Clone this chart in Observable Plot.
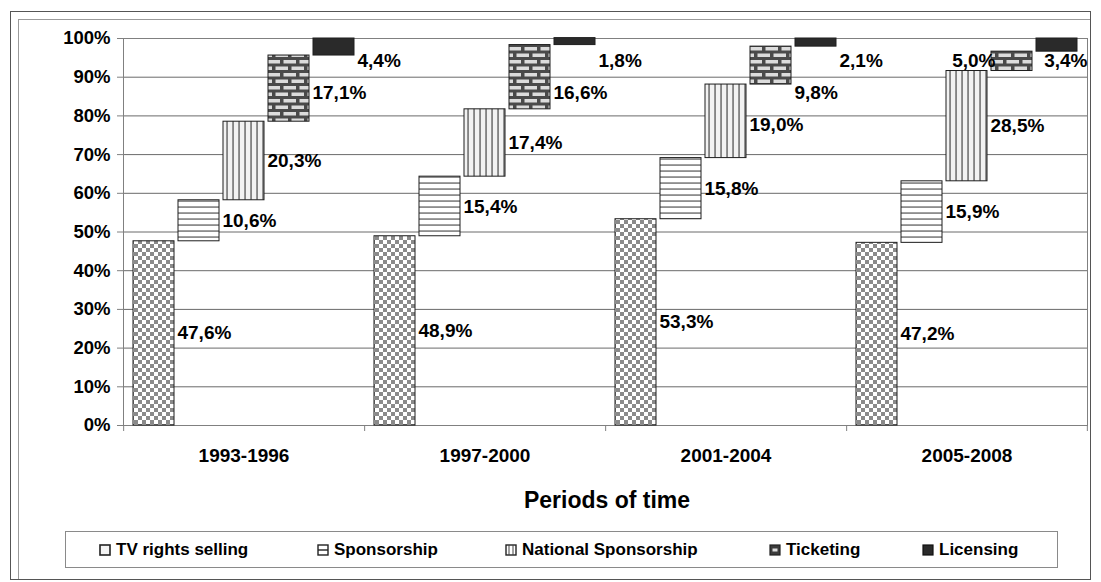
<!DOCTYPE html>
<html>
<head>
<meta charset="utf-8">
<script src="https://cdn.jsdelivr.net/npm/d3@7"></script>
<script src="https://cdn.jsdelivr.net/npm/@observablehq/plot@0.6"></script>
<style>
  body { margin: 0; background: #fff; font-family: "Liberation Sans", Arial, sans-serif; }
  #wrap { position: relative; width: 1101px; height: 582px; overflow: hidden; background: #fff; }
  #outer { position: absolute; left: 10px; top: 11px; width: 1079px; height: 567px; border: 1px solid #555; }
  #innerL { position: absolute; left: 18px; top: 19px; width: 0; height: 560px; border-left: 1px solid #9a9a9a; }
  #innerT { position: absolute; left: 18px; top: 19px; width: 1072px; height: 0; border-top: 1px solid #9a9a9a; }
  #chart { position: absolute; left: 0; top: 0; }
  #title { position: absolute; left: 457px; width: 300px; top: 486px; text-align: center;
           font-weight: bold; font-size: 23px; line-height: 28px; color: #000; }
  #legend { position: absolute; left: 65px; top: 531px; width: 991px; height: 35px; border: 1px solid #8a8a8a; }
  .item { position: absolute; top: 0; height: 35px; display: flex; align-items: center;
          font-weight: bold; font-size: 17px; color: #000; white-space: nowrap; }
  .item svg { margin-right: 5px; }
</style>
</head>
<body>
<div id="wrap">
  <svg width="0" height="0" style="position:absolute">
    <defs>
      <pattern id="pTV" width="8" height="8" patternUnits="userSpaceOnUse">
        <rect width="8" height="8" fill="#ffffff"/>
        <rect width="4" height="4" fill="#8a8a8a"/>
        <rect x="4" y="4" width="4" height="4" fill="#8a8a8a"/>
      </pattern>
      <pattern id="pSp" width="6" height="6" patternUnits="userSpaceOnUse">
        <rect width="6" height="6" fill="#ffffff"/>
        <rect y="2.5" width="6" height="1.1" fill="#444"/>
      </pattern>
      <pattern id="pNat" width="6" height="6" patternUnits="userSpaceOnUse">
        <rect width="6" height="6" fill="#f2f2f2"/>
        <rect x="2.4" width="1.3" height="6" fill="#555"/>
      </pattern>
      <pattern id="pTick" width="16" height="13" patternUnits="userSpaceOnUse">
        <rect width="16" height="13" fill="#4a4a4a"/>
        <rect x="1.5" y="1.5" width="12.5" height="3.5" fill="#dcdcdc"/>
        <rect x="-6.5" y="8" width="12.5" height="3.5" fill="#dcdcdc"/>
        <rect x="9.5" y="8" width="12.5" height="3.5" fill="#dcdcdc"/>
      </pattern>
    </defs>
  </svg>
  <div id="outer"></div>
  <div id="innerL"></div>
  <div id="innerT"></div>
  <div id="chart"></div>
  <div id="title">Periods of time</div>
  <div id="legend"></div>
</div>
<script>
// ---- data ----
const periods = ["1993-1996", "1997-2000", "2001-2004", "2005-2008"];
const seriesNames = ["TV rights selling", "Sponsorship", "National Sponsorship", "Ticketing", "Licensing"];
const tvRights = [47.6, 48.9, 53.3, 47.2];
const sponsorship = [10.6, 15.4, 15.8, 15.9];
const nationalSponsorship = [20.3, 17.4, 19.0, 28.5];
const ticketing = [17.1, 16.6, 9.8, 5.0];
const licensing = [4.4, 1.8, 2.1, 3.4];
const yTicks = [0, 10, 20, 30, 40, 50, 60, 70, 80, 90, 100];

// ---- layout ----
const W = 1101, H = 470, mL = 121, mR = 13, mT = 38, mB = 45;
const pIn = 0.095, pOut = 0.218;
const patterns = ["url(#pTV)", "url(#pSp)", "url(#pNat)", "url(#pTick)", "#2a2a2a"];
const labelFont = "bold 19px 'Liberation Sans', Arial, sans-serif";

const seriesValues = [tvRights, sponsorship, nationalSponsorship, ticketing, licensing];

// floating (waterfall) bars: each bar starts where the previous one ended
const rows = [];
periods.forEach((p, i) => {
  let start = 0;
  seriesNames.forEach((s, j) => {
    const v = seriesValues[j][i];
    rows.push({period: p, pi: i, series: s, sj: j, value: v, y1: start, y2: start + v,
               label: v.toFixed(1).replace(".", ",") + "%"});
    start += v;
  });
});

// ---- label placement (keep labels inside the plot frame, avoid collisions) ----
const plotW = W - mL - mR;
const plotH = H - mT - mB;
const facetW = plotW / periods.length;
const step = facetW / (seriesNames.length - pIn + 2 * pOut);
const bw = step * (1 - pIn);
const pxPerUnit = plotH / 100;
const gap = 3;
const topLimit = 100 - 22 / pxPerUnit;
const sepPx = 32;
const ctx = document.createElement("canvas").getContext("2d");
ctx.font = labelFont;
rows.forEach(r => {
  r.labelY = Math.min((r.y1 + r.y2) / 2, topLimit);
  r.w = ctx.measureText(r.label).width;
  const barLeft = step * pOut + r.sj * step;
  r.barLeft = barLeft;
  r.x0 = barLeft + bw + gap; r.x1 = r.x0 + r.w;
  r.place = "right";
  if (r.pi * facetW + r.x1 > plotW) { r.place = "edge"; r.x1 = facetW; r.x0 = facetW - r.w; }
});
periods.forEach((p, i) => {
  const g = rows.filter(r => r.pi === i);
  for (let j = g.length - 2; j >= 0; j--) {
    const a = g[j], b = g[j + 1];
    const overlapX = Math.min(a.x1, b.x1) - Math.max(a.x0, b.x0);
    const dyPx = Math.abs(a.labelY - b.labelY) * pxPerUnit;
    if (overlapX > -4 && dyPx < sepPx) {
      const pushed = b.labelY - sepPx / pxPerUnit;
      if (pushed >= a.y1 - 12 / pxPerUnit) {
        a.labelY = pushed;                       // move label down, still beside its bar
      } else {
        a.place = "left";                        // otherwise put it on the other side of its bar
        a.x1 = a.barLeft + 4; a.x0 = a.x1 - a.w;
      }
    }
  }
});

const textOpts = {fx: "period", y: "labelY", text: "label", fontSize: 19, fontWeight: "bold", fill: "#000"};

const chart = Plot.plot({
  width: W, height: H,
  marginLeft: mL, marginRight: mR, marginTop: mT, marginBottom: mB,
  style: {fontFamily: "'Liberation Sans', Arial, sans-serif", fontWeight: "bold", fontSize: "19px", background: "transparent", color: "#000", overflow: "visible"},
  fx: {domain: periods, padding: 0, label: null},
  x: {domain: seriesNames, paddingInner: pIn, paddingOuter: pOut, axis: null},
  y: {domain: [0, 100], axis: null},
  color: {domain: seriesNames, range: patterns},
  marks: [
    Plot.gridY(yTicks, {stroke: "#6a6a6a", strokeOpacity: 1}),
    Plot.frame({facet: "super", stroke: "#808080"}),
    Plot.axisY(yTicks, {tickFormat: d => d + "%", tickSize: 6, tickPadding: 7, label: null,
                        stroke: "#808080", fill: "#000", fontSize: 18.5, fontWeight: "bold"}),
    Plot.axisFx({anchor: "bottom", tickSize: 0, tickPadding: 23, label: null, fontSize: 19, fontWeight: "bold"}),
    // category boundary ticks below the 0% line
    Plot.ruleX(periods, {fx: d => d, x: () => seriesNames[0], dx: -(step * pOut + bw / 2),
                         y1: () => 0, y2: () => 0, insetBottom: -6, stroke: "#808080"}),
    Plot.ruleX(periods.slice(-1), {fx: d => d, x: () => seriesNames[seriesNames.length - 1], dx: step * pOut + bw / 2,
                         y1: () => 0, y2: () => 0, insetBottom: -6, stroke: "#808080"}),
    Plot.barY(rows, {fx: "period", x: "series", y1: "y1", y2: "y2", fill: "series", stroke: "#1e1e1e", strokeWidth: 1}),
    Plot.text(rows.filter(r => r.place === "right"), {...textOpts, x: "series", textAnchor: "start", dx: bw / 2 + gap}),
    Plot.text(rows.filter(r => r.place === "left"), {...textOpts, x: "series", textAnchor: "end", dx: -bw / 2 + 4}),
    Plot.text(rows.filter(r => r.place === "edge"), {...textOpts, frameAnchor: "right", textAnchor: "end"})
  ]
});
document.getElementById("chart").appendChild(chart);

// ---- legend ----
const icons = [
  '<rect x="1" y="1" width="10" height="10" fill="#f4f4f4" stroke="#222" stroke-width="1.6"/>',
  '<rect x="1" y="1" width="10" height="10" fill="#fff" stroke="#222" stroke-width="1.4"/><line x1="1" y1="6" x2="11" y2="6" stroke="#222" stroke-width="1.4"/>',
  '<rect x="1" y="1" width="10" height="10" fill="#fff" stroke="#222" stroke-width="1.4"/><line x1="4" y1="1" x2="4" y2="11" stroke="#444" stroke-width="1"/><line x1="8" y1="1" x2="8" y2="11" stroke="#444" stroke-width="1"/>',
  '<rect x="1" y="1" width="10" height="10" fill="#3c3c3c" stroke="#222" stroke-width="1.2"/><rect x="3.5" y="4.5" width="5" height="3" fill="#ddd"/>',
  '<rect x="1" y="1" width="10" height="10" fill="#2a2a2a" stroke="#111" stroke-width="1.2"/>'
];
const legendX = [33, 251, 439, 703, 856];
const legend = document.getElementById("legend");
seriesNames.forEach((s, j) => {
  const d = document.createElement("div");
  d.className = "item";
  d.style.left = legendX[j] + "px";
  d.innerHTML = '<svg width="12" height="12" viewBox="0 0 12 12">' + icons[j] + '</svg><span>' + s + '</span>';
  legend.appendChild(d);
});
</script>
</body>
</html>
